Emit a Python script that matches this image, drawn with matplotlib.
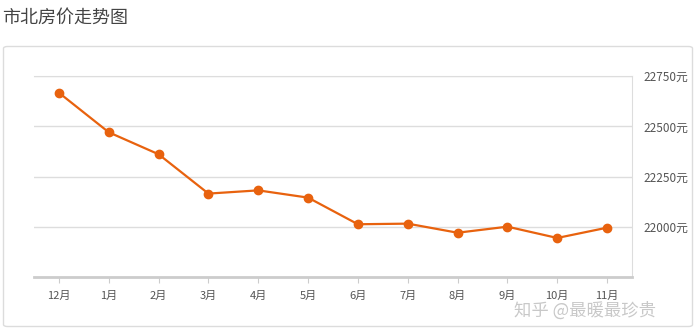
import matplotlib
matplotlib.use("Agg")
import matplotlib.pyplot as plt
from matplotlib.patches import FancyBboxPatch

plt.rcParams['font.family'] = ['Noto Sans CJK SC', 'DejaVu Sans']

# monthly prices (元)
months = ['12月', '1月', '2月', '3月', '4月', '5月', '6月', '7月', '8月', '9月', '10月', '11月']
prices = [22667, 22471, 22362, 22167, 22183, 22147, 22015, 22018, 21973, 22003, 21947, 21998]
yticks = [22000, 22250, 22500, 22750]

W, H = 697, 328
fig = plt.figure(figsize=(W / 100, H / 100), dpi=100)

# rounded frame around the chart
frame = FancyBboxPatch((3.5 / W, 1.5 / H), 689 / W, 280 / H,
                       boxstyle="round,pad=0,rounding_size=0.006",
                       transform=fig.transFigure, fill=False,
                       edgecolor='#dcdcdc', linewidth=1)
fig.patches.append(frame)

fig.text(2 / W, 1 - 18 / H, '市北房价走势图', fontsize=13, color='#444444',
         va='center', ha='left')

ax = fig.add_axes([34 / W, (H - 277.3) / H, (632 - 34) / W, (277.3 - 76) / H])
x = list(range(len(months)))
ax.plot(x, prices, color='#e8620e', linewidth=1.6, marker='o',
        markersize=6, markerfacecolor='#e8620e', markeredgecolor='#e8620e')

ax.set_xlim(-0.5, len(months) - 0.5)
ax.set_ylim(21752, 22750)
ax.set_xticks(x)
ax.set_xticklabels(months)
ax.set_yticks(yticks)
ax.set_yticklabels([f'{v}元' for v in yticks])
ax.yaxis.tick_right()
ax.tick_params(axis='y', length=0, pad=8, labelsize=8.5, labelcolor='#555555')
ax.tick_params(axis='x', length=4, width=0.8, color='#cccccc', pad=6,
               labelsize=8, labelcolor='#555555')
ax.grid(axis='y', color='#dddddd', linewidth=1)
ax.set_axisbelow(True)

ax.spines['left'].set_visible(False)
ax.spines['top'].set_color('#dddddd')
ax.spines['right'].set_color('#dddddd')
ax.spines['bottom'].set_color('#cccccc')
ax.spines['bottom'].set_linewidth(2)

# watermark, nudged below the month labels
fig.text(514 / W, 1 - 311 / H, '知乎 @最暖最珍贵', fontsize=12.5, color='#bbbbbb',
         alpha=0.8, va='center', ha='left')

fig.savefig('out.png', dpi=100)
